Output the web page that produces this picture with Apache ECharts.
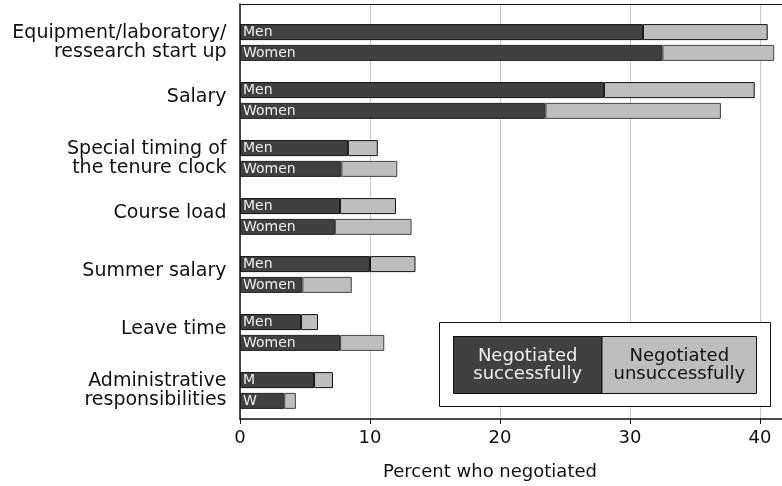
<!DOCTYPE html>
<html>
<head>
<meta charset="utf-8">
<script src="https://cdn.jsdelivr.net/npm/echarts@6/dist/echarts.min.js"></script>
<style>html,body{margin:0;padding:0;background:#fff;}#c{width:782px;height:486px;}</style>
</head>
<body>
<div id="c"></div>
<script>
const categories = ["Equipment/laboratory/\nressearch start up", "Salary", "Special timing of\nthe tenure clock", "Course load", "Summer salary", "Leave time", "Administrative\nresponsibilities"];
const menLabels = ["Men", "Men", "Men", "Men", "Men", "Men", "M"];
const womenLabels = ["Women", "Women", "Women", "Women", "Women", "Women", "W"];
const menSuccess = [31.0, 28.0, 8.3, 7.7, 10.0, 4.7, 5.7];
const menUnsuccess = [9.6, 11.6, 2.3, 4.3, 3.5, 1.3, 1.45];
const womenSuccess = [32.5, 23.5, 7.8, 7.3, 4.8, 7.7, 3.4];
const womenUnsuccess = [8.6, 13.5, 4.3, 5.9, 3.8, 3.4, 0.9];
const tickValues = [0, 10, 20, 30, 40];
const legendNames = ["Negotiated\nsuccessfully", "Negotiated\nunsuccessfully"];

const FONT = 'DejaVu Sans';
const DARK = '#404040', LIGHT = '#bebebe';
const XMAX = 41.7;

const chart = echarts.init(document.getElementById('c'), null, {renderer: 'canvas'});

function barLabel(names) {
  return {
    show: true, position: 'insideLeft', distance: 3,
    color: '#eeeeee', fontFamily: FONT, fontSize: 14,
    formatter: p => names[p.dataIndex]
  };
}

chart.setOption({
  animation: false,
  backgroundColor: '#fff',
  grid: [
    {left: 240, right: 0, top: 4, bottom: 58.5},
    {left: 240, right: 0, top: 13.5, height: 406}
  ],
  xAxis: [
    {
      type: 'value', gridIndex: 0, min: 0, max: XMAX, interval: 10,
      axisLine: {show: true, lineStyle: {color: '#111', width: 1.5}},
      axisTick: {show: true, length: 5, lineStyle: {color: '#111'}, customValues: tickValues},
      axisLabel: {color: '#111', fontFamily: FONT, fontSize: 18, margin: 10, customValues: tickValues},
      splitLine: {show: true, lineStyle: {color: '#c8c8c8', width: 1}},
      name: 'Percent who negotiated', nameLocation: 'middle', nameGap: 44,
      nameTextStyle: {color: '#111', fontFamily: FONT, fontSize: 18, padding: [0, 42, 0, 0]}
    },
    {
      type: 'value', gridIndex: 0, position: 'top', min: 0, max: XMAX,
      axisLine: {show: true, lineStyle: {color: '#111', width: 1}},
      axisTick: {show: false}, axisLabel: {show: false}, splitLine: {show: false}
    },
    {
      type: 'value', gridIndex: 1, min: 0, max: XMAX, show: false
    }
  ],
  yAxis: [
    {
      type: 'value', gridIndex: 0, min: 0, max: 1,
      axisLine: {show: true, lineStyle: {color: '#111', width: 1.5}},
      axisTick: {show: false}, axisLabel: {show: false}, splitLine: {show: false}
    },
    {
      type: 'category', gridIndex: 1, data: categories, inverse: true,
      axisLine: {show: false}, axisTick: {show: false}, splitLine: {show: false},
      axisLabel: {
        color: '#111', fontFamily: FONT, fontSize: 19, lineHeight: 19, margin: 13.5, align: 'right',
        formatter: v => v.indexOf('\n') >= 0 ? v : '{one|' + v + '}',
        rich: {one: {color: '#111', fontFamily: FONT, fontSize: 19, lineHeight: 19, padding: [0, 0, 6, 0]}}
      }
    }
  ],
  series: [
    {type: 'bar', name: 'men-s', xAxisIndex: 2, yAxisIndex: 1, stack: 'men', data: menSuccess,
      barWidth: 16, barGap: '30%',
      itemStyle: {color: DARK, borderColor: '#111', borderWidth: 1}, label: barLabel(menLabels)},
    {type: 'bar', name: 'men-u', xAxisIndex: 2, yAxisIndex: 1, stack: 'men', data: menUnsuccess,
      barWidth: 16, barGap: '30%',
      itemStyle: {color: LIGHT, borderColor: '#111', borderWidth: 1}},
    {type: 'bar', name: 'women-s', xAxisIndex: 2, yAxisIndex: 1, stack: 'women', data: womenSuccess,
      barWidth: 16, barGap: '30%',
      itemStyle: {color: DARK, borderColor: '#222', borderWidth: 1}, label: barLabel(womenLabels)},
    {type: 'bar', name: 'women-u', xAxisIndex: 2, yAxisIndex: 1, stack: 'women', data: womenUnsuccess,
      barWidth: 16, barGap: '30%',
      itemStyle: {color: LIGHT, borderColor: '#444', borderWidth: 1}}
  ],
  graphic: [
    {type: 'rect', z: 100, shape: {x: 439.5, y: 322.5, width: 331, height: 84},
      style: {fill: '#fff', stroke: '#111', lineWidth: 1}},
    {type: 'rect', z: 101, shape: {x: 453.5, y: 336.5, width: 148.5, height: 57},
      style: {fill: DARK, stroke: '#111', lineWidth: 1}},
    {type: 'rect', z: 101, shape: {x: 602, y: 336.5, width: 154.5, height: 57},
      style: {fill: LIGHT, stroke: '#111', lineWidth: 1}},
    {type: 'text', z: 102, x: 527.7, y: 365,
      style: {text: legendNames[0], fill: '#eeeeee', font: '18px "DejaVu Sans"', lineHeight: 18, align: 'center', verticalAlign: 'middle'}},
    {type: 'text', z: 102, x: 679.3, y: 365,
      style: {text: legendNames[1], fill: '#111', font: '18px "DejaVu Sans"', lineHeight: 18, align: 'center', verticalAlign: 'middle'}}
  ]
});
</script>
</body>
</html>
